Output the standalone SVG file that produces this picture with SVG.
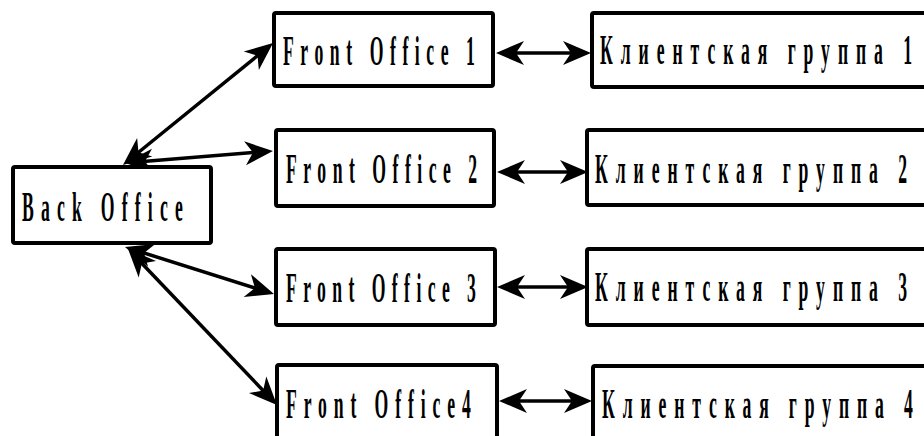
<svg xmlns="http://www.w3.org/2000/svg" width="924" height="436" viewBox="0 0 924 436">
<style>
.box{fill:#fff;stroke:#000;stroke-width:4}
.lbl{font-family:"Liberation Serif","DejaVu Serif",serif;font-size:42px;font-weight:bold;fill:#000}
.conn{fill:none;stroke:#000;stroke-width:3.5}
</style>
<defs>
<marker id="ah" markerUnits="userSpaceOnUse" markerWidth="40" markerHeight="40" refX="0" refY="0" orient="auto-start-reverse" overflow="visible" viewBox="-20 -20 40 40">
<path d="M15,0 L-13,-12 L-5,0 L-13,12 Z" fill="#000"/>
</marker>
</defs>
<rect width="924" height="436" fill="#fff"/>
<g id="connectors">
<path class="conn" d="M134.6,155.5 L261.4,52.5" marker-start="url(#ah)" marker-end="url(#ah)"/>
<path class="conn" d="M140,161.8 L258,152.2" marker-start="url(#ah)" marker-end="url(#ah)"/>
<path class="conn" d="M139.3,251.5 L259.7,289.5" marker-start="url(#ah)" marker-end="url(#ah)"/>
<path class="conn" d="M138.4,259.8 L266.6,394.2" marker-start="url(#ah)" marker-end="url(#ah)"/>
<path class="conn" d="M511,53 L576,53" marker-start="url(#ah)" marker-end="url(#ah)"/>
<path class="conn" d="M512,172 L573,172" marker-start="url(#ah)" marker-end="url(#ah)"/>
<path class="conn" d="M512,287 L573,287" marker-start="url(#ah)" marker-end="url(#ah)"/>
<path class="conn" d="M514,401 L577,401" marker-start="url(#ah)" marker-end="url(#ah)"/>
</g>
<g id="back-office">
<rect class="box" x="13" y="167" width="198" height="76" rx="2"/>
<text class="lbl" transform="translate(22,221) scale(0.42,1)" textLength="383" lengthAdjust="spacing">Back Office</text>
</g>
<g id="front-office-1">
<rect class="box" x="274" y="13" width="219" height="73" rx="2"/>
<text class="lbl" transform="translate(283,65) scale(0.42,1)" textLength="457" lengthAdjust="spacing">Front Office 1</text>
</g>
<g id="front-office-2">
<rect class="box" x="276" y="130" width="218" height="76" rx="2"/>
<text class="lbl" transform="translate(286,183) scale(0.42,1)" textLength="455" lengthAdjust="spacing">Front Office 2</text>
</g>
<g id="front-office-3">
<rect class="box" x="276" y="249" width="219" height="76" rx="2"/>
<text class="lbl" transform="translate(286,302) scale(0.42,1)" textLength="452" lengthAdjust="spacing">Front Office 3</text>
</g>
<g id="front-office-4">
<rect class="box" x="277" y="365" width="220" height="100" rx="2"/>
<text class="lbl" transform="translate(286,418) scale(0.42,1)" textLength="440" lengthAdjust="spacing">Front Office4</text>
</g>
<g id="client-group-1">
<rect class="box" x="592" y="13" width="360" height="74" rx="2"/>
<text class="lbl" transform="translate(600,64) scale(0.42,1)" textLength="743" lengthAdjust="spacing">Клиентская группа 1</text>
</g>
<g id="client-group-2">
<rect class="box" x="587" y="130" width="365" height="75" rx="2"/>
<text class="lbl" transform="translate(595,183) scale(0.42,1)" textLength="743" lengthAdjust="spacing">Клиентская группа 2</text>
</g>
<g id="client-group-3">
<rect class="box" x="587" y="249" width="365" height="76" rx="2"/>
<text class="lbl" transform="translate(595,301) scale(0.42,1)" textLength="743" lengthAdjust="spacing">Клиентская группа 3</text>
</g>
<g id="client-group-4">
<rect class="box" x="593" y="366" width="360" height="100" rx="2"/>
<text class="lbl" transform="translate(602,418) scale(0.42,1)" textLength="740" lengthAdjust="spacing">Клиентская группа 4</text>
</g>
</svg>
